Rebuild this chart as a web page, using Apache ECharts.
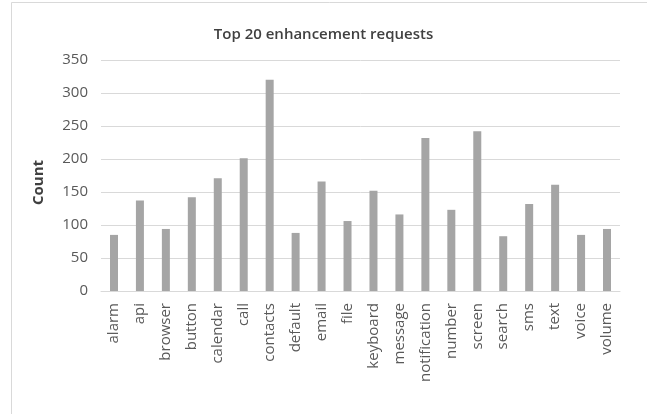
<!DOCTYPE html>
<html>
<head>
<meta charset="utf-8">
<script src="https://cdn.jsdelivr.net/npm/echarts@6/dist/echarts.min.js"></script>
<style>
html,body{margin:0;padding:0;background:#fff;}
#c{width:647px;height:414px;}
</style>
</head>
<body>
<div id="c"></div>
<script>
var categories = ["alarm","api","browser","button","calendar","call","contacts","default","email","file","keyboard","message","notification","number","screen","search","sms","text","voice","volume"];
var counts = [85,137,94,142,171,201,320,88,166,106,152,116,232,123,242,83,132,161,85,94];
var yTicks = {min:0, max:350, interval:50};

var chart = echarts.init(document.getElementById('c'), null, {renderer:'canvas'});
chart.setOption({
  animation:false,
  backgroundColor:'#fff',
  graphic:[{
    type:'rect',
    shape:{x:11.5, y:2.5, width:700, height:500},
    style:{fill:'none', stroke:'#d9d9d9', lineWidth:1},
    silent:true, z:-1
  }],
  title:{
    text:'Top 20 enhancement requests',
    left:'center', top:22,
    textStyle:{fontFamily:'Open Sans', fontSize:15, fontWeight:600, color:'#404040'}
  },
  grid:{left:101, right:27, top:60, bottom:123, containLabel:false},
  xAxis:{
    type:'category',
    data:categories,
    axisLine:{lineStyle:{color:'#d9d9d9'}},
    axisTick:{show:false},
    axisLabel:{rotate:90, interval:0, margin:12, color:'#595959', fontFamily:'Open Sans', fontSize:15}
  },
  yAxis:{
    type:'value',
    min:yTicks.min, max:yTicks.max, interval:yTicks.interval,
    name:'Count', nameLocation:'middle', nameGap:55, nameRotate:90,
    nameTextStyle:{fontFamily:'Open Sans', fontSize:15, fontWeight:'bold', color:'#404040', padding:[0,14,0,0]},
    axisLine:{show:false},
    axisTick:{show:false},
    splitLine:{lineStyle:{color:'#d9d9d9'}},
    axisLabel:{margin:13, color:'#595959', fontFamily:'Open Sans', fontSize:15}
  },
  series:[{
    type:'bar',
    data:counts,
    barWidth:8,
    itemStyle:{color:'#a5a5a5'}
  }]
});
</script>
</body>
</html>
